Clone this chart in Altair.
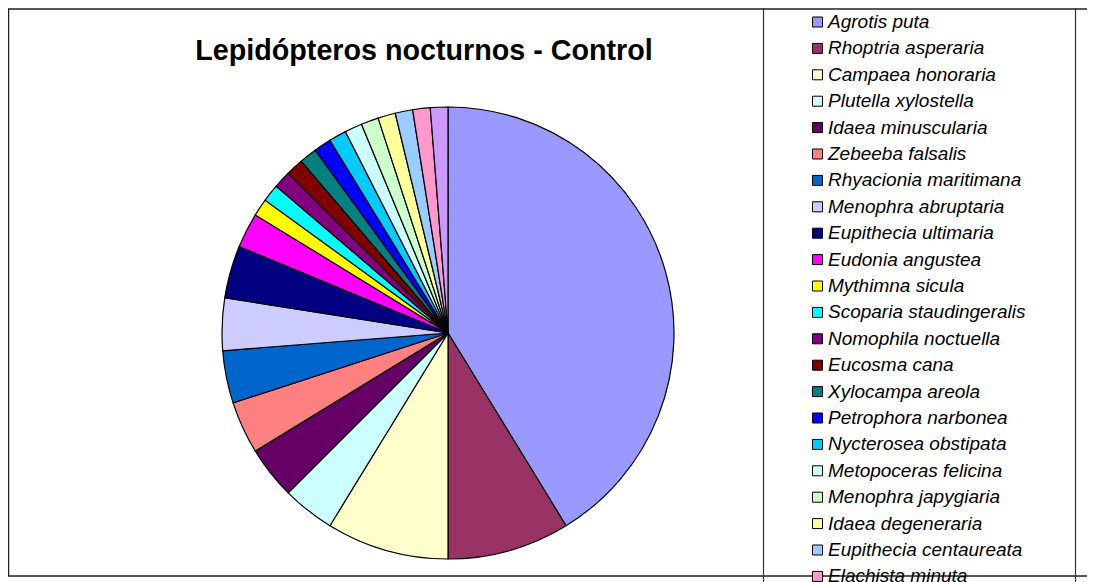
import altair as alt
import pandas as pd

title_text = "Lepidópteros nocturnos - Control"

species = [
    "Agrotis puta", "Rhoptria asperaria", "Campaea honoraria", "Plutella xylostella",
    "Idaea minuscularia", "Zebeeba falsalis", "Rhyacionia maritimana", "Menophra abruptaria",
    "Eupithecia ultimaria", "Eudonia angustea", "Mythimna sicula", "Scoparia staudingeralis",
    "Nomophila noctuella", "Eucosma cana", "Xylocampa areola", "Petrophora narbonea",
    "Nycterosea obstipata", "Metopoceras felicina", "Menophra japygiaria", "Idaea degeneraria",
    "Eupithecia centaureata", "Elachista minuta", "Especie 23",
]
counts = [33, 7, 7, 3, 3, 3, 3, 3, 3, 2, 1, 1, 1, 1, 1, 1, 1, 1, 1, 1, 1, 1, 1]
colors = [
    "#9999FF", "#993366", "#FFFFCC", "#CCFFFF", "#660066", "#FF8080", "#0066CC", "#CCCCFF",
    "#000080", "#FF00FF", "#FFFF00", "#00FFFF", "#800080", "#800000", "#008080", "#0000FF",
    "#00CCFF", "#CCFFFF", "#CCFFCC", "#FFFF99", "#99CCFF", "#FF99CC", "#CC99FF",
]

df = pd.DataFrame({"especie": species, "n": counts, "idx": list(range(len(species)))})
one = pd.DataFrame({"a": [0]})

W, H = 1079, 574

outer = alt.Chart(one).mark_rect(fill="white", fillOpacity=0, stroke="#222222", strokeWidth=1.5).encode(
    x=alt.value(0.5), x2=alt.value(1200), y=alt.value(1), y2=alt.value(568)
)
legbox = alt.Chart(one).mark_rect(fill="white", fillOpacity=0, stroke="#333333", strokeWidth=1.2).encode(
    x=alt.value(755.5), x2=alt.value(1067.5), y=alt.value(-20), y2=alt.value(700)
)

pie = alt.Chart(df).mark_arc(stroke="black", strokeWidth=1.2, outerRadius=226).encode(
    theta=alt.Theta("n:Q", stack=True),
    order=alt.Order("idx:Q"),
    color=alt.Color(
        "especie:N",
        scale=alt.Scale(domain=species, range=colors),
        legend=alt.Legend(
            orient="none", legendX=800, legendY=4.5, title=None,
            symbolType="square", symbolSize=100, symbolStrokeColor="black",
            symbolStrokeWidth=1, symbolOpacity=1,
            labelFont="Liberation Sans", labelFontStyle="italic", labelFontSize=19,
            labelColor="black", labelOffset=1, rowPadding=6.4, labelLimit=400, padding=0,
        ),
    ),
    x=alt.value(440), y=alt.value(325),
)

title = alt.Chart(one).mark_text(
    text=title_text, font="Liberation Sans", fontWeight="bold", fontSize=28.7,
    align="center", baseline="alphabetic", color="black",
).encode(x=alt.value(416), y=alt.value(51.5))

chart = alt.layer(outer, legbox, pie, title).properties(
    width=W, height=H, autosize="none", padding=0
).configure_view(stroke=None)

chart.save("out.html", embed_options={"renderer": "svg", "actions": False})
